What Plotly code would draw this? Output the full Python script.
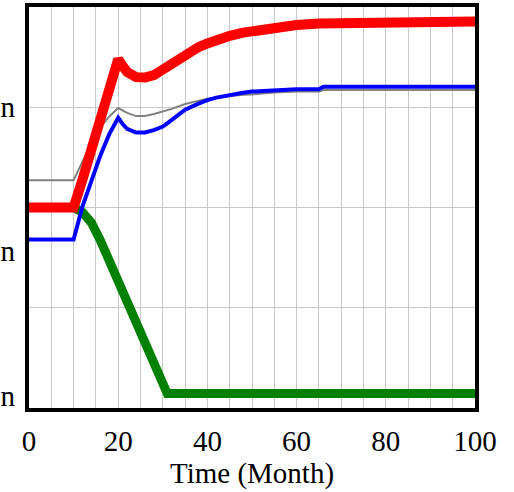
import plotly.graph_objects as go

time = [0, 10, 12, 14, 16, 18, 20, 21, 22, 24, 26, 28, 30, 31, 32, 35, 38, 40, 42, 45, 48, 50, 55, 60, 65, 66, 70, 80, 87, 88, 100]

gray_vals = [56.8, 56.8, 61.5, 66, 70, 72.7, 74.8, 74.2, 73.6, 72.8, 72.8, 73.3, 73.9, 74.2, 74.6, 75.8, 76.6, 77.1, 77.4, 77.8, 78.1, 78.2, 78.7, 78.9, 78.9, 79.3, 79.3, 79.3, 79.3, 79.3, 79.3]
green_vals = [50, 50, 48.8, 46.2, 41.8, 36.8, 31.4, 28.9, 26.4, 21.4, 16.4, 11.4, 6.9, 3.6, 3.6, 3.6, 3.6, 3.6, 3.6, 3.6, 3.6, 3.6, 3.6, 3.6, 3.6, 3.6, 3.6, 3.6, 3.6, 3.6, 3.6]
blue_vals = [42, 42, 50.3, 57, 63, 68.3, 72.4, 70.8, 69.6, 68.7, 68.7, 69.3, 70.2, 71, 71.8, 74.4, 75.9, 76.8, 77.4, 78.1, 78.6, 78.9, 79.3, 79.5, 79.5, 80.1, 80.1, 80.1, 80.1, 80.1, 80.1]
red_vals = [50, 50, 57, 64.3, 71.5, 79, 87, 85.3, 83.8, 82.5, 82.4, 83, 84.4, 85.1, 85.8, 88.3, 90.0, 90.9, 91.8, 92.8, 93.6, 94.0, 94.8, 95.5, 95.9, 95.9, 96.0, 96.0, 96.1, 96.3, 96.4]

x_ticks = [0, 20, 40, 60, 80, 100]
y_grid = [0, 25, 50, 75, 100]
y_label_vals = [75.2, 39.2, 3.1]
y_label_text = ["Person", "Person", "Person"]

FONT = "Liberation Serif"

fig = go.Figure()
fig.add_trace(go.Scatter(x=time, y=gray_vals, mode="lines", line=dict(color="#808080", width=2), showlegend=False))
fig.add_trace(go.Scatter(x=time, y=green_vals, mode="lines", line=dict(color="#008000", width=9), showlegend=False))
fig.add_trace(go.Scatter(x=time, y=blue_vals, mode="lines", line=dict(color="#0000FF", width=4), showlegend=False))
fig.add_trace(go.Scatter(x=time, y=red_vals, mode="lines", line=dict(color="#FF0000", width=10), showlegend=False))
# invisible trace for label axis
fig.add_trace(go.Scatter(x=[0], y=[0], yaxis="y2", mode="markers", marker=dict(opacity=0), showlegend=False, hoverinfo="skip"))

fig.update_layout(
    width=514, height=492,
    margin=dict(l=29, r=39, t=7, b=84, autoexpand=False),
    paper_bgcolor="white", plot_bgcolor="white",
    font=dict(family=FONT, size=29, color="black"),
    xaxis=dict(
        range=[0, 100], tickvals=x_ticks, showgrid=True, gridcolor="#c8c8c8", gridwidth=1,
        minor=dict(dtick=5, showgrid=True, gridcolor="#c8c8c8", gridwidth=1),
        showline=True, linecolor="black", linewidth=4, mirror=True,
        ticks="", ticklabelstandoff=4, zeroline=False,
        title=dict(text="Time (Month)", font=dict(size=29), standoff=0),
        automargin=False,
    ),
    yaxis=dict(
        range=[0, 100], tickvals=y_grid, showticklabels=False, showgrid=True, gridcolor="#c8c8c8", gridwidth=1,
        showline=True, linecolor="black", linewidth=4, mirror=True, ticks="", zeroline=False,
        automargin=False,
    ),
    yaxis2=dict(
        range=[0, 100], overlaying="y", side="left", tickvals=y_label_vals, ticktext=y_label_text,
        showgrid=False, zeroline=False, showline=False, ticks="", ticklabelstandoff=13,
        automargin=False,
    ),
)

fig.write_html("out.html", config={"displayModeBar": False},
               post_script="document.body.style.margin='0';document.body.style.overflow='hidden';")
